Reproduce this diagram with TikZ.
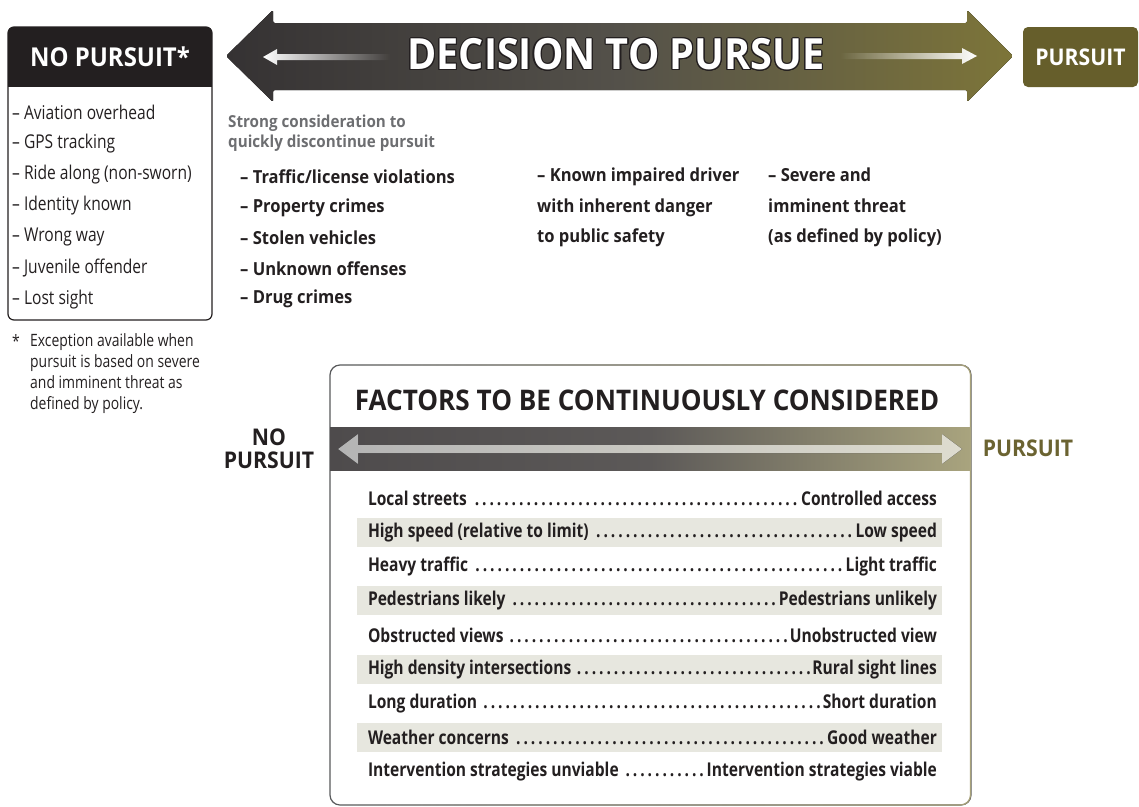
\documentclass[tikz,border=0pt]{standalone}
\usepackage{fontspec}
\setmainfont{Open Sans}
\newfontfamily\headfont[FakeStretch=0.92]{Open Sans}
\newfontfamily\condfont[FakeStretch=0.82]{Open Sans}
\usepackage{contour}
\contourlength{1.1pt}
\usetikzlibrary{positioning, fadings}

\definecolor{inkdark}{HTML}{231F20}
\definecolor{olivebox}{HTML}{665E2B}
\definecolor{arrowdark}{HTML}{353233}
\definecolor{arrowmid}{HTML}{54514A}
\definecolor{arrowolive}{HTML}{7D7539}
\definecolor{notegray}{HTML}{6D6E71}
\definecolor{rowshade}{HTML}{E7E7DF}
\definecolor{bardark}{HTML}{4E4B4C}
\definecolor{barmid}{HTML}{5C5958}
\definecolor{barlight}{HTML}{A9A47E}
\definecolor{bararrowgray}{HTML}{B4B4B4}
\definecolor{bararrowpale}{HTML}{DEDCCF}
\definecolor{framegray}{HTML}{58595B}
\definecolor{frameolive}{HTML}{A8A27A}
\definecolor{pursuitolive}{HTML}{6B6331}

\newcommand{\rowdots}{\cleaders\hbox to 7.4pt{\hss.\hss}\hfill}

\tikzset{
  listitem/.style={anchor=west, inner sep=0pt, text=inkdark,
    font=\condfont\fontsize{19}{22}\selectfont},
  crimeitem/.style={anchor=west, inner sep=0pt, text=inkdark,
    font=\headfont\bfseries\fontsize{18}{30.5}\selectfont},
  factorrow/.style={inner sep=0pt, text=inkdark,
    font=\condfont\bfseries\fontsize{19}{21}\selectfont},
  headlabel/.style={inner sep=0pt, font=\headfont\bfseries\fontsize{23}{23}\selectfont},
}

\begin{document}
\begin{tikzpicture}[x=1pt, y=-1pt]
  \useasboundingbox (0,0) rectangle (1139,806);

  % no pursuit box
  \begin{scope}
    \clip[rounded corners=6pt] (8,27) rectangle (212,320);
    \fill[inkdark] (8,27) rectangle (212,87);
  \end{scope}
  \draw[inkdark, line width=1.2pt, rounded corners=6pt] (8,27) rectangle (212,320);
  \node[headlabel, text=white, font=\headfont\bfseries\fontsize{26}{26}\selectfont] (nohead) at (110,57) {NO PURSUIT*};
  \foreach \t [count=\i from 0] in {Aviation overhead, GPS tracking, Ride along (non-sworn),
      Identity known, Wrong way, Juvenile offender, Lost sight}
    \node[listitem] (nolist\i) at (12, {112+31.3*\i}) {– \t};

  \node[listitem, font=\condfont\fontsize{17}{21}\selectfont] (star) at (12,341) {*};
  \node[listitem, anchor=north west, align=left, font=\condfont\fontsize{17}{21}\selectfont]
    (footnote) at (30,333) {Exception available when\\pursuit is based on severe\\and imminent threat as\\defined by policy.};

  % decision arrow
  \fill[left color=arrowdark, right color=arrowolive, middle color=arrowmid, rounded corners=1.5pt]
    (226,56) -- (273,10) -- (273,23) -- (967,23) -- (967,10) -- (1013,56)
    -- (967,102) -- (967,90) -- (273,90) -- (273,102) -- cycle;
  \fill[white, path fading=east] (263,57) -- (277,49) -- (277,54) -- (390,54)
    -- (390,60) -- (277,60) -- (277,65) -- cycle;
  \fill[white, path fading=west] (840,53) -- (962,53) -- (962,48) -- (977,56)
    -- (962,64) -- (962,59) -- (840,59) -- cycle;
  \node[text=white, font=\headfont\bfseries\fontsize{43}{43}\selectfont] (decision) at (616,55)
    {\contour{inkdark}{DECISION TO PURSUE}};

  \node[headlabel, fill=olivebox, text=white, rounded corners=5pt, minimum width=115pt,
    minimum height=60pt] (pursuit) at (1080.5,57) {PURSUIT};

  % offenses
  \node[anchor=west, align=left, inner sep=0pt, text=notegray,
    font=\headfont\bfseries\fontsize{16.5}{20}\selectfont]
    (strong) at (228,133) {Strong consideration to\\quickly discontinue pursuit};
  \foreach \t [count=\i from 0] in {Traffic/license violations, Property crimes,
      Stolen vehicles, Unknown offenses, Drug crimes}
    \node[crimeitem] (crime\i) at (240, {177+30.5*\i}) {– \t};
  \node[crimeitem, align=left] (impaired) at (537,207.5)
    {– Known impaired driver\\with inherent danger\\to public safety};
  \node[crimeitem, align=left] (threat) at (768,207.5)
    {– Severe and\\imminent threat\\(as defined by policy)};

  % factors box
  \draw[framegray, line width=1.2pt, rounded corners=10pt] (330,365) rectangle (971,805);
  \draw[frameolive, line width=1.2pt, rounded corners=10pt, path fading=west] (330,365) rectangle (971,805);
  \node[headlabel, text=inkdark, font=\headfont\bfseries\fontsize{28.4}{28}\selectfont] (factors)
    at (647,400) {FACTORS TO BE CONTINUOUSLY CONSIDERED};
  \fill[left color=bardark, right color=barlight, middle color=barmid] (330,427) rectangle (971,470);
  \fill[left color=bararrowgray, right color=bararrowpale]
    (338,449) -- (358,434) -- (358,445) -- (942,445) -- (942,434) -- (962,449)
    -- (942,464) -- (942,453) -- (358,453) -- (358,464) -- cycle;
  \node[headlabel, text=inkdark, align=center] (nolabel) at (269,449) {NO\\PURSUIT};
  \node[headlabel, text=pursuitolive] (yeslabel) at (1028,448) {PURSUIT};

  \foreach \i in {1,3,5,7}
    \fill[rowshade] (357, {498+34.25*\i-14.5}) rectangle (942, {498+34.25*\i+14.5});
  \foreach \lt/\rt [count=\i from 0] in {Local streets/Controlled access,
      High speed (relative to limit)/Low speed, Heavy traffic/Light traffic,
      Pedestrians likely/Pedestrians unlikely, Obstructed views/Unobstructed view,
      High density intersections/Rural sight lines, Long duration/Short duration,
      Weather concerns/Good weather,
      Intervention strategies unviable/Intervention strategies viable}
    \node[factorrow] (row\i) at (652.5, {498+34.25*\i}) {\makebox[569pt]{\lt\ \rowdots\rt}};
\end{tikzpicture}
\end{document}
